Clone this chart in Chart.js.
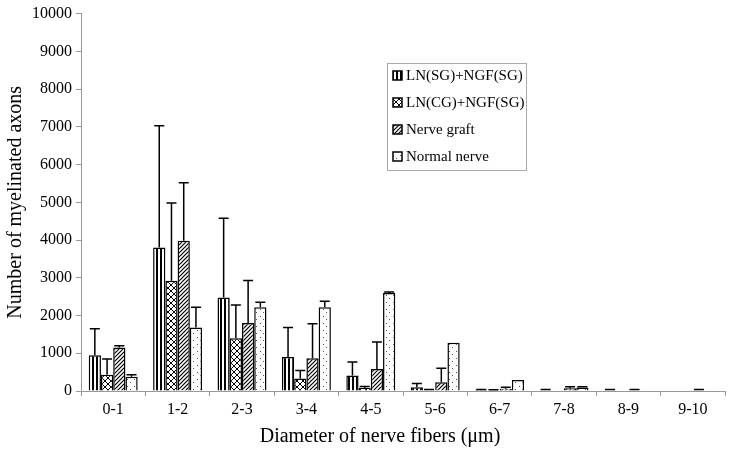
<!DOCTYPE html>
<html>
<head>
<meta charset="utf-8">
<script src="https://cdn.jsdelivr.net/npm/chart.js@4"></script>
<style>
  html, body { margin: 0; padding: 0; background: #fff; }
  #wrap { width: 729px; height: 453px; }
</style>
</head>
<body>
<div id="wrap"><canvas id="myChart" width="729" height="453"></canvas></div>
<script>
const categories = ["0-1", "1-2", "2-3", "3-4", "4-5", "5-6", "6-7", "7-8", "8-9", "9-10"];
const seriesNames = ["LN(SG)+NGF(SG)", "LN(CG)+NGF(SG)", "Nerve graft", "Normal nerve"];
const xTitle = "Diameter of nerve fibers (\u03bcm)";

const lnSG     = [950, 3800, 2480, 900, 410, 100, 25, 20, 20, 10];
const lnCG     = [430, 2920, 1400, 330, 80, 20, 15, 10, 10, 10];
const graft    = [1150, 3980, 1800, 870, 580, 230, 60, 70, 20, 20];
const normal   = [380, 1680, 2220, 2220, 2600, 1280, 290, 90, 10, 10];

// upper ends of the error bars
const lnSGErr   = [1650, 7030, 4580, 1680, 770, 200, 40, 40, 40, 20];
const lnCGErr   = [850, 4980, 2280, 540, 120, 40, 30, 20, 20, 20];
const graftErr  = [1200, 5520, 2930, 1780, 1300, 600, 100, 110, 40, 40];
const normalErr = [430, 2220, 2350, 2380, 2620, 1280, 290, 110, 20, 20];

function makePattern(size, drawFn) {
  const c = document.createElement("canvas");
  c.width = size; c.height = size;
  const g = c.getContext("2d");
  g.fillStyle = "#fff";
  g.fillRect(0, 0, size, size);
  g.strokeStyle = "#000";
  g.fillStyle = "#000";
  drawFn(g, size);
  return g.createPattern(c, "repeat");
}

const vertStripes = makePattern(4, (g) => { g.fillRect(0, 0, 2, 4); });
const crossHatch = makePattern(6, (g, s) => {
  g.lineWidth = 1;
  g.beginPath();
  g.moveTo(0, 0); g.lineTo(s, s);
  g.moveTo(s, 0); g.lineTo(0, s);
  g.stroke();
});
const diagStripes = makePattern(4, (g, s) => {
  g.lineWidth = 1.2;
  g.beginPath();
  g.moveTo(0, s); g.lineTo(s, 0);
  g.moveTo(-1, 1); g.lineTo(1, -1);
  g.moveTo(s - 1, s + 1); g.lineTo(s + 1, s - 1);
  g.stroke();
});
const dots = makePattern(7, (g) => {
  g.fillStyle = "#555";
  g.fillRect(1, 1, 1, 1);
  g.fillRect(4, 4, 1, 1);
});

const fills = [vertStripes, crossHatch, diagStripes, dots];
const values = [lnSG, lnCG, graft, normal];
const errors = [lnSGErr, lnCGErr, graftErr, normalErr];

const errorBars = {
  id: "errorBars",
  afterDatasetsDraw(chart) {
    const ctx = chart.ctx;
    const y = chart.scales.y;
    ctx.save();
    ctx.strokeStyle = "#000";
    ctx.lineWidth = 1.5;
    chart.data.datasets.forEach((ds, i) => {
      const meta = chart.getDatasetMeta(i);
      meta.data.forEach((bar, j) => {
        const top = y.getPixelForValue(errors[i][j]);
        if (bar.y - top < 0.5) return;
        ctx.beginPath();
        ctx.moveTo(bar.x, bar.y);
        ctx.lineTo(bar.x, top);
        ctx.moveTo(bar.x - 5, top);
        ctx.lineTo(bar.x + 5, top);
        ctx.stroke();
      });
    });
    ctx.restore();
  }
};

// legend box inside the plot, plus the x title (sits a bit left of centre)
const boxLegend = {
  id: "boxLegend",
  afterDraw(chart) {
    const ctx = chart.ctx;
    ctx.save();
    ctx.fillStyle = "#fff";
    ctx.fillRect(387, 63, 139, 107);
    ctx.strokeStyle = "#aaa";
    ctx.lineWidth = 1;
    ctx.strokeRect(387.5, 63.5, 139, 107);
    ctx.font = "15px 'Liberation Serif'";
    ctx.textBaseline = "middle";
    chart.data.datasets.forEach((ds, i) => {
      const cy = 76 + i * 27;
      ctx.fillStyle = ds.backgroundColor;
      ctx.fillRect(393, cy - 5, 9, 9);
      ctx.strokeStyle = "#000";
      ctx.lineWidth = 1.5;
      ctx.strokeRect(393, cy - 5, 9, 9);
      ctx.fillStyle = "#000";
      ctx.fillText(ds.label, 406, cy);
    });
    ctx.font = "20px 'Liberation Serif'";
    ctx.textAlign = "center";
    ctx.fillText(xTitle, 380, 437);
    ctx.restore();
  }
};

new Chart(document.getElementById("myChart"), {
  type: "bar",
  data: {
    labels: categories,
    datasets: seriesNames.map((name, i) => ({
      label: name,
      data: values[i],
      backgroundColor: fills[i],
      borderColor: "#000",
      borderWidth: 1.5,
      barPercentage: 1,
      categoryPercentage: 0.76
    }))
  },
  options: {
    responsive: false,
    animation: false,
    layout: { padding: { top: 12, right: 4, left: 0, bottom: 0 } },
    plugins: {
      legend: { display: false },
      tooltip: { enabled: false }
    },
    scales: {
      x: {
        grid: { drawOnChartArea: false, tickLength: 5, color: "#999" },
        border: { color: "#999" },
        ticks: { color: "#000", font: { family: "Liberation Serif", size: 16 }, padding: 4 },
        afterFit(scale) { scale.height = 62; }
      },
      y: {
        min: 0,
        max: 10000,
        grid: { drawOnChartArea: false, tickLength: 5, color: "#999" },
        border: { color: "#999" },
        ticks: {
          stepSize: 1000,
          color: "#000",
          font: { family: "Liberation Serif", size: 16 },
          padding: 4,
          callback: (v) => String(v)
        },
        title: {
          display: true,
          text: "Number of myelinated axons",
          color: "#000",
          font: { family: "Liberation Serif", size: 20 },
          padding: { top: 4, bottom: 2 }
        },
        afterFit(scale) { scale.width = 81; }
      }
    }
  },
  plugins: [errorBars, boxLegend]
});
</script>
</body>
</html>
